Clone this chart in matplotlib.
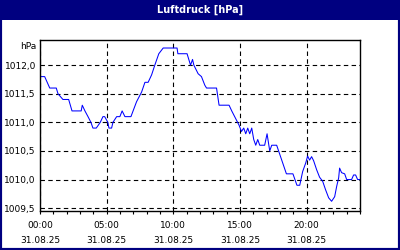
import matplotlib
matplotlib.use("Agg")
import matplotlib.pyplot as plt
from matplotlib.patches import Rectangle
from matplotlib.ticker import MultipleLocator, FixedLocator

title = "Luftdruck [hPa]"
unit = "hPa"
date_label = "31.08.25"

hours = [0.0, 0.35, 0.73, 1.22, 1.35, 1.72, 2.15, 2.40, 3.09, 3.17, 3.37, 3.60, 3.82,
         3.97, 4.22, 4.52, 4.72, 4.85, 5.09, 5.17, 5.37, 5.47, 5.75, 5.99, 6.16, 6.37,
         6.82, 7.24, 7.62, 7.87, 8.11, 8.37, 8.61, 8.91, 9.24, 10.28, 10.34, 11.03,
         11.29, 11.44, 11.54, 11.86, 12.11, 12.36, 12.49, 13.24, 13.43, 14.18, 14.38,
         14.93, 15.11, 15.28, 15.43, 15.58, 15.73, 15.88, 16.03, 16.18, 16.33, 16.48,
         16.85, 17.03, 17.23, 17.38, 17.75, 18.48, 18.97, 19.27, 19.48, 19.70, 19.93,
         20.07, 20.22, 20.37, 20.52, 20.75, 20.97, 21.20, 21.42, 21.65, 21.87, 22.10,
         22.25, 22.40, 22.47, 22.62, 22.85, 23.00, 23.37, 23.52, 23.67, 23.82, 23.97]
pressure = [1011.8, 1011.8, 1011.6, 1011.6, 1011.5, 1011.4, 1011.4, 1011.2, 1011.2, 1011.3,
            1011.2, 1011.1, 1011.0, 1010.9, 1010.9, 1011.0, 1011.1, 1011.1, 1011.0, 1010.9,
            1010.9, 1011.0, 1011.1, 1011.1, 1011.2, 1011.1, 1011.1, 1011.36, 1011.53, 1011.7,
            1011.7, 1011.83, 1012.0, 1012.2, 1012.3, 1012.3, 1012.2, 1012.2, 1012.0, 1012.1,
            1012.0, 1011.85, 1011.8, 1011.65, 1011.6, 1011.6, 1011.3, 1011.3, 1011.2, 1010.95,
            1010.84, 1010.9, 1010.8, 1010.9, 1010.8, 1010.9, 1010.7, 1010.6, 1010.7, 1010.6,
            1010.6, 1010.8, 1010.5, 1010.6, 1010.6, 1010.1, 1010.1, 1009.9, 1009.9, 1010.14,
            1010.29, 1010.41, 1010.34, 1010.4, 1010.33, 1010.17, 1010.04, 1009.97, 1009.82,
            1009.68, 1009.62, 1009.7, 1009.88, 1010.03, 1010.2, 1010.12, 1010.1, 1010.0,
            1010.0, 1010.08, 1010.08, 1010.0, 1010.0]

x_ticks = [0, 5, 10, 15, 20]
x_tick_labels = ["00:00", "05:00", "10:00", "15:00", "20:00"]
y_ticks = [1009.5, 1010.0, 1010.5, 1011.0, 1011.5, 1012.0]
y_tick_labels = ["1009,5", "1010,0", "1010,5", "1011,0", "1011,5", "1012,0"]

navy = "#000080"
fig = plt.figure(figsize=(4, 2.5), dpi=100)
fig.patch.set_facecolor("white")

# border and title bar
fig.add_artist(Rectangle((0, 0), 1, 1, transform=fig.transFigure, fill=False,
                         edgecolor=navy, linewidth=3.0))
fig.add_artist(Rectangle((0, 1 - 20 / 250), 1, 20 / 250, transform=fig.transFigure,
                         facecolor=navy, edgecolor="none"))
fig.text(0.5, 1 - 10 / 250, title, color="white", ha="center", va="center",
         fontsize=7, fontweight="bold", family="DejaVu Sans")

ax = fig.add_axes([40 / 400, 1 - 211 / 250, 320 / 400, 171 / 250])
ax.plot(hours, pressure, color="#0000ff", linewidth=0.75)
ax.set_xlim(0, 24)
ax.set_ylim(1009.45, 1012.44)

ax.xaxis.set_major_locator(FixedLocator(x_ticks))
ax.set_xticklabels([f"{t}\n{date_label}" for t in x_tick_labels], linespacing=1.75)
ax.xaxis.set_minor_locator(MultipleLocator(1))
ax.yaxis.set_major_locator(FixedLocator(y_ticks))
ax.set_yticklabels(y_tick_labels)

ax.tick_params(axis="x", which="both", direction="out", length=2.5, width=0.8,
               labelsize=6.5, pad=5, colors="black")
ax.tick_params(axis="y", which="both", length=0, labelsize=6.5, pad=3)
ax.grid(True, which="major", color="black", linestyle=(0, (4, 3)), linewidth=0.8)

for s in ax.spines.values():
    s.set_color("black")
    s.set_linewidth(1.0)

ax.text(-0.01, 0.99, unit, transform=ax.transAxes, ha="right", va="top",
        fontsize=6.5)

fig.savefig("out.png", dpi=100, facecolor="white")
